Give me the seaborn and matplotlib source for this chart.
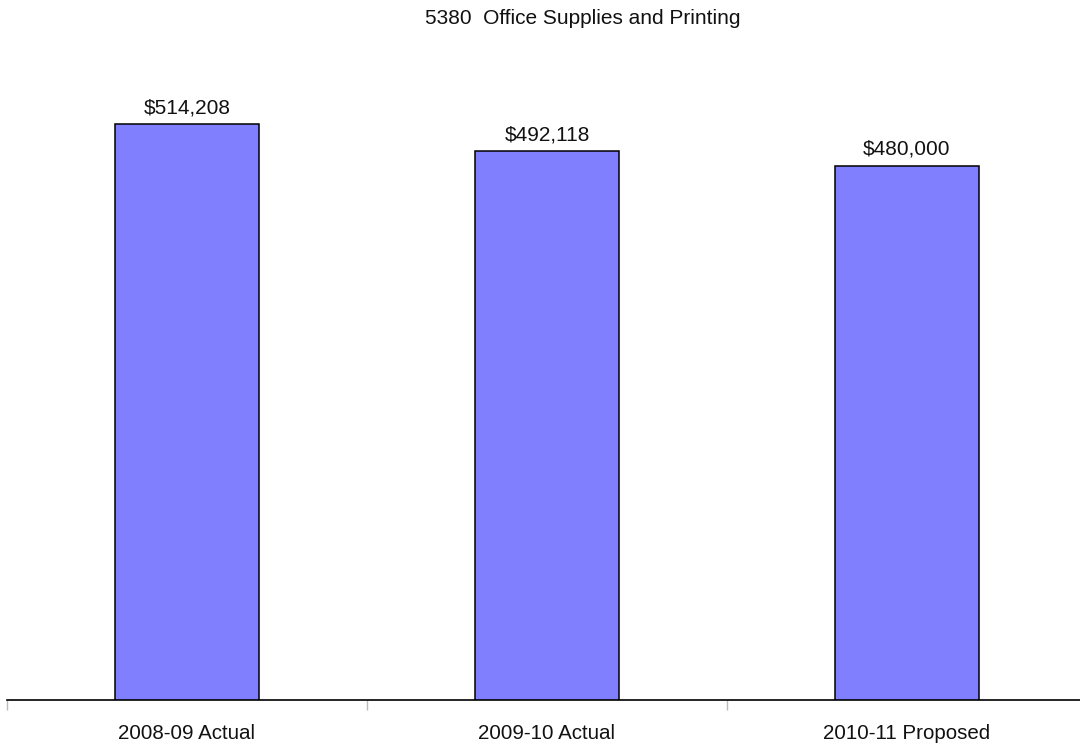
import matplotlib
matplotlib.use("Agg")
import matplotlib.pyplot as plt
import seaborn as sns
import pandas as pd

categories = ["2008-09 Actual", "2009-10 Actual", "2010-11 Proposed"]
amounts = [514208, 492118, 480000]
title = "5380  Office Supplies and Printing"

sns.set_style("white")
plt.rcParams["font.family"] = ["Liberation Sans", "DejaVu Sans"]

df = pd.DataFrame({"category": categories, "amount": amounts})

fig = plt.figure(figsize=(10.8, 7.45), dpi=100)
ax = fig.add_axes([7 / 1080, 45 / 745, 1.0, 640 / 745])

sns.barplot(data=df, x="category", y="amount", color="#8080FF",
            saturation=1, width=0.4, edgecolor="black", linewidth=1.1, ax=ax)

ax.set_xlim(-0.5, 2.5)
ax.set_ylim(43000, 566650)

for i, v in enumerate(amounts):
    ax.annotate(f"${v:,.0f}", (i, v), xytext=(0, 5), textcoords="offset points",
                ha="center", va="bottom", fontsize=15, color="#111111")

for s in ["top", "right", "left"]:
    ax.spines[s].set_visible(False)
ax.spines["bottom"].set_color("black")
ax.spines["bottom"].set_linewidth(1.2)

ax.set_yticks([])
ax.set_xlabel("")
ax.set_ylabel("")
ax.tick_params(axis="x", which="major", bottom=False, length=0, pad=17,
               labelsize=14.8, labelcolor="#111111")
ax.set_xticks([-0.5, 0.5, 1.5, 2.5], minor=True)
ax.tick_params(axis="x", which="minor", bottom=True, length=7, width=1,
               color="#bbbbbb", direction="out")

fig.text(583 / 1080, 1 - 19 / 745, title, ha="center", va="center",
         fontsize=15, color="#111111")

fig.savefig("out.png", dpi=100)
